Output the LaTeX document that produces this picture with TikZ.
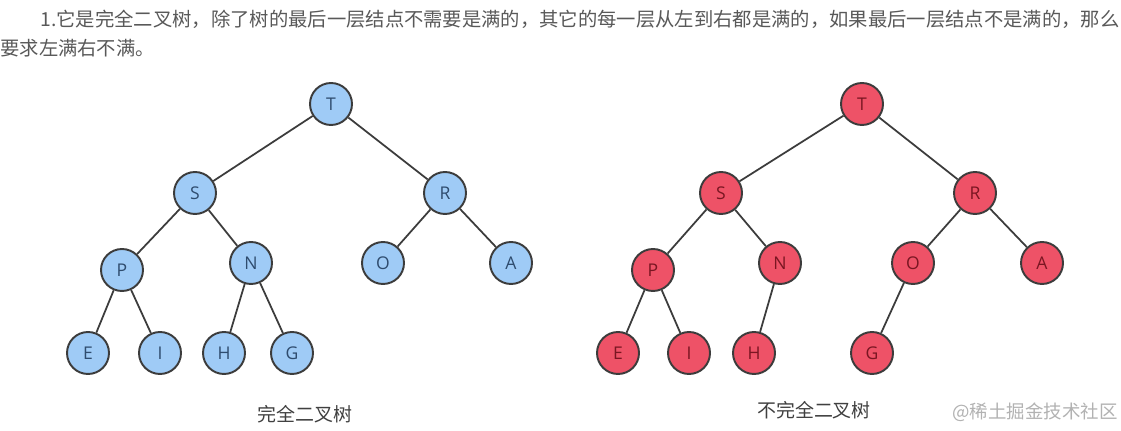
\documentclass[tikz,border=0pt]{standalone}
\usepackage{fontspec}
\setsansfont{Open Sans}
\newfontfamily\cjk{Noto Sans CJK SC}
\usepackage{tikz}

\definecolor{nodeblue}{HTML}{9FCBF6}
\definecolor{nodered}{HTML}{EE5267}
\definecolor{txtblue}{HTML}{2F4C6E}
\definecolor{txtred}{HTML}{7A1622}
\definecolor{edgegray}{HTML}{3C3C3C}

\begin{document}
\begin{tikzpicture}[x=0.02cm, y=-0.02cm, font=\sffamily\fontsize{10}{12}\selectfont,
  bnode/.style={circle, draw=edgegray, line width=1.1pt, fill=nodeblue, text=txtblue, minimum size=0.84cm, inner sep=0pt},
  rnode/.style={circle, draw=edgegray, line width=1.1pt, fill=nodered, text=txtred, minimum size=0.84cm, inner sep=0pt},
  edge/.style={draw=edgegray, line width=1pt}]
  \useasboundingbox (0,0) rectangle (1121,431);
  \fill[white] (0,0) rectangle (1121,431);
  % heading text
  \node[anchor=west, inner sep=0pt, text=black!65, font=\cjk\fontsize{11.0}{13}\selectfont] (line1) at (40,19)
    {1.它是完全二叉树，除了树的最后一层结点不需要是满的，其它的每一层从左到右都是满的，如果最后一层结点不是满的，那么};
  \node[anchor=west, inner sep=0pt, text=black!65, font=\cjk\fontsize{11.0}{13}\selectfont] (line2) at (0,48) {要求左满右不满。};
  % complete tree
  \node[bnode] (lT) at (331,104) {T};
  \node[bnode] (lS) at (195,193) {S};
  \node[bnode] (lR) at (445,193) {R};
  \node[bnode] (lP) at (122,270) {P};
  \node[bnode] (lN) at (251,263) {N};
  \node[bnode] (lO) at (383,263) {O};
  \node[bnode] (lA) at (511,263) {A};
  \node[bnode] (lE) at (88,353) {E};
  \node[bnode] (lI) at (160,353) {I};
  \node[bnode] (lH) at (224,353) {H};
  \node[bnode] (lG) at (292,353) {G};
  \foreach \a/\b in {lT/lS, lT/lR, lS/lP, lS/lN, lR/lO, lR/lA, lP/lE, lP/lI, lN/lH, lN/lG}
    \draw[edge] (\a) -- (\b);
  % incomplete tree
  \node[rnode] (rT) at (862,104) {T};
  \node[rnode] (rS) at (721,193) {S};
  \node[rnode] (rR) at (975,193) {R};
  \node[rnode] (rP) at (653,270) {P};
  \node[rnode] (rN) at (780,263) {N};
  \node[rnode] (rO) at (913,263) {O};
  \node[rnode] (rA) at (1042,263) {A};
  \node[rnode] (rE) at (618,353) {E};
  \node[rnode] (rI) at (689,353) {I};
  \node[rnode] (rH) at (754,353) {H};
  \node[rnode] (rG) at (872,353) {G};
  \foreach \a/\b in {rT/rS, rT/rR, rS/rP, rS/rN, rR/rO, rR/rA, rP/rE, rP/rI, rN/rH, rO/rG}
    \draw[edge] (\a) -- (\b);
  % captions
  \node[text=black!75, font=\cjk\fontsize{10.8}{13}\selectfont] (capL) at (305,414) {完全二叉树};
  \node[text=black!75, font=\cjk\fontsize{10.8}{13}\selectfont] (capR) at (814,410) {不完全二叉树};
  \node[text=black!30, font=\cjk\fontsize{10.5}{13}\selectfont] (mark) at (1035,412) {@稀土掘金技术社区};
\end{tikzpicture}
\end{document}
